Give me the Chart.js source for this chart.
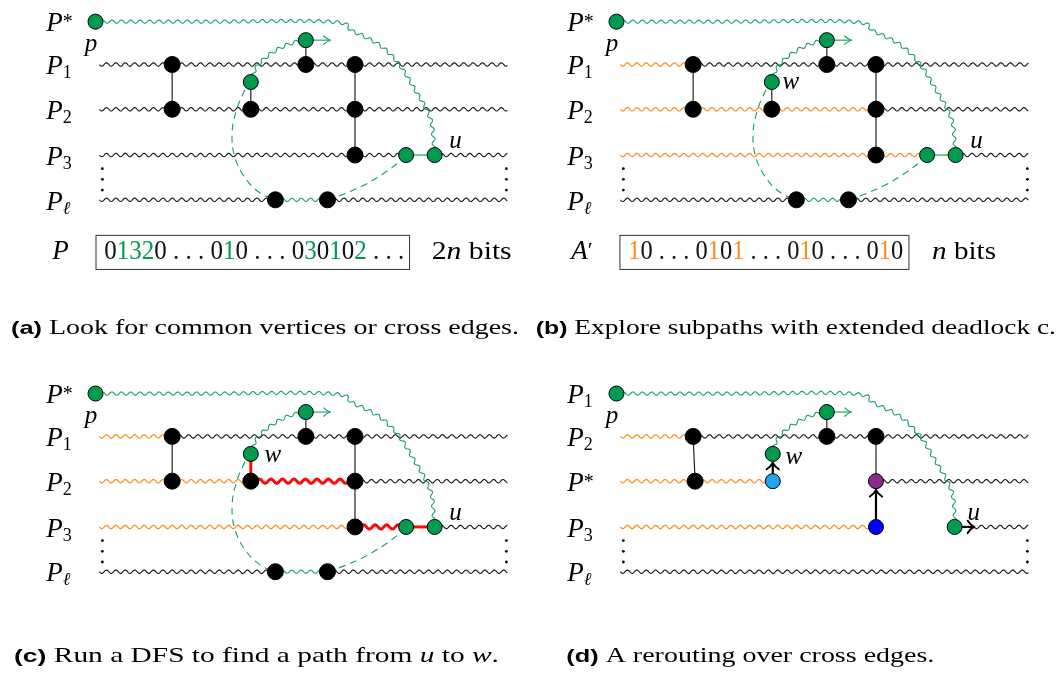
<!DOCTYPE html>
<html>
<head>
<meta charset="utf-8">
<script src="https://cdn.jsdelivr.net/npm/chart.js@4.4.1/dist/chart.umd.min.js"></script>
<style>
  html, body { margin: 0; padding: 0; background: #fff; overflow: hidden; }
  canvas { display: block; }
</style>
</head>
<body>
<canvas id="fig" width="1057" height="681" style="width:1057px;height:681px"></canvas>
<script>
// ---- data (panel-relative units: x from the panel's left, y down from its top row) ----
const rowOffsets = [0, 44, 90, 137, 183];
const origins = { a: [0, 13], b: [530, 13], c: [0, 395], d: [530, 395] };
const namesTop = ['P*', 'P1', 'P2', 'P3', 'Pℓ'];
const namesD = ['P1', 'P2', 'P*', 'P3', 'Pℓ'];

// path pieces along a row: [row, from x, to x, kind]
const segA = [
  [1, 92, 507, 'plain'], [2, 92, 507, 'plain'],
  [3, 92, 404, 'plain'], [3, 404, 433, 'routeEdge'], [3, 433, 507, 'plain'],
  [4, 92, 271, 'plain'], [4, 271, 324, 'route'], [4, 324, 507, 'plain']
];
const segB = [
  [1, 92, 166, 'explored'], [1, 166, 507, 'plain'],
  [2, 92, 352, 'explored'], [2, 352, 507, 'plain'],
  [3, 92, 404, 'explored'], [3, 404, 433, 'routeEdge'], [3, 433, 507, 'plain'],
  [4, 92, 272, 'plain'], [4, 272, 325, 'route'], [4, 325, 507, 'plain']
];
const segC = [
  [1, 92, 166, 'explored'], [1, 166, 507, 'plain'],
  [2, 92, 246, 'explored'], [2, 246, 352, 'dfs'], [2, 352, 507, 'plain'],
  [3, 92, 352, 'explored'], [3, 352, 404, 'dfs'], [3, 404, 433, 'dfsEdge'], [3, 433, 507, 'plain'],
  [4, 92, 271, 'plain'], [4, 271, 324, 'route'], [4, 324, 507, 'plain']
];
const segD = [
  [1, 92, 166, 'explored'], [1, 166, 507, 'plain'],
  [2, 92, 247, 'explored'], [2, 352, 507, 'plain'],
  [3, 92, 352, 'explored'], [3, 452, 507, 'plain'],
  [4, 92, 507, 'plain']
];

// cross edges: [x1, y1, x2, y2, kind]
const edgesAB = [[166, 44, 166, 90, 'crossEdge'], [246, 62, 246, 90, 'crossEdge'], [302, 19, 302, 44, 'crossEdge'], [352, 44, 352, 137, 'crossEdge']];
const edgesC = [[166, 44, 166, 90, 'crossEdge'], [246, 62, 246, 90, 'dfsEdge'], [302, 19, 302, 44, 'crossEdge'], [352, 44, 352, 137, 'crossEdge']];
const edgesD = [[166, 44, 168, 90, 'crossEdge'], [302, 19, 302, 44, 'crossEdge'], [352, 44, 352, 90, 'crossEdge']];

// arrows: [x1, y1, x2, y2, kind]
const arrowsABC = [[302, 19, 327, 19, 'open']];
const arrowsD = [[302, 19, 327, 19, 'open'], [247, 90, 247, 71, 'bold'], [352, 137, 352, 99, 'bold'], [432, 137, 452, 137, 'bold']];

// green wavy routes
const starRoute = [[88, 0], [200, 0], [327, 0], [350, 10], [377, 24], [397, 44], [413, 70], [423, 87], [430, 104], [432, 124], [433, 137]];
const wRoute = [[246, 62], [251, 48], [261, 37], [276, 27], [291, 21], [302, 19]];
// dashed arcs
const dashLeft = [[240, 70], [232, 89], [227, 114], [230, 140], [242, 163], [257, 177], [271, 183]];
const dashRight = [[324, 183], [341, 177], [361, 168], [381, 156], [397, 144], [404, 137]];

// vertices per kind
const blackABC = [[166, 44], [166, 90], [246, 90], [302, 44], [352, 44], [352, 90], [352, 137], [271, 183], [324, 183]];
const greenABC = [[88, 0], [246, 62], [302, 19], [404, 137], [433, 137]];
const blackD = [[166, 44], [168, 90], [302, 44], [352, 44]];
const greenD = [[88, 0], [247, 62], [302, 19], [432, 137]];
const startD = [[247, 90]];
const targetD = [[352, 137]];
const mergeD = [[352, 90]];
const vdots = [[95, 151], [95, 162], [95, 173], [506, 151], [506, 162], [506, 173]];

// vertex labels: [text, x, baseline]
const labelsA = [['p', 77, 30], ['u', 448, 130]];
const labelsB = [['p', 77, 30], ['u', 448, 130], ['w', 257, 69]];
const labelsC = [['p', 77, 30], ['u', 448, 130], ['w', 260, 70]];
const labelsD = [['p', 77, 30], ['u', 445, 130], ['w', 260, 72]];

// bit strings: [text, highlighted]
const bitsP = [['0', 0], ['132', 1], ['0', 0], [' . . . ', 0], ['0', 0], ['1', 1], ['0', 0], [' . . . ', 0],
  ['0', 0], ['3', 1], ['0', 0], ['1', 1], ['0', 0], ['2', 1], [' . . .', 0]];
const bitsA = [['1', 1], ['0', 0], [' . . . ', 0], ['0', 0], ['1', 1], ['0', 0], ['1', 1], [' . . . ', 0],
  ['0', 0], ['1', 1], ['0', 0], [' . . . ', 0], ['0', 0], ['1', 1], ['0', 0]];

const captions = [
  ['(a)', [['Look for common vertices or cross edges.', 0]]],
  ['(b)', [['Explore subpaths with extended deadlock c.', 0]]],
  ['(c)', [['Run a DFS to find a path from ', 0], ['u', 1], [' to ', 0], ['w', 1], ['.', 0]]],
  ['(d)', [['A rerouting over cross edges.', 0]]]
];

// ---- styles ----
const SERIF = "'Liberation Serif', serif";
const SANS = "'Liberation Sans', sans-serif";
const look = {
  plain: { color: '#1a1a1a', width: 1.15, amp: 1.7, len: 9.4 },
  explored: { color: '#ff8a1a', width: 1.2, amp: 1.7, len: 9.4 },
  route: { color: '#13a060', width: 1.1, amp: 1.6, len: 9.4 },
  dfs: { color: '#ff0a0a', width: 3, amp: 2.1, len: 11.5 },
  routeEdge: { color: '#13a060', width: 1.2 },
  dfsEdge: { color: '#ff0a0a', width: 3 },
  crossEdge: { color: '#222', width: 1.2 }
};
const fills = { plain: '#000', route: '#009b4e', start: '#1ea7ea', target: '#0000ff', merge: '#8b2a8f' };

const datasets = [];
const at = (o, p) => ({ x: o[0] + p[0], y: o[1] + p[1] });

function addNodes(o, pts, kind) {
  const black = kind === 'plain';
  datasets.push({
    data: pts.map(p => at(o, p)), showLine: false, order: 0,
    pointRadius: black ? 8 : 7.5, pointHoverRadius: 0,
    pointBackgroundColor: fills[kind], pointBorderColor: '#000', pointBorderWidth: 1
  });
}
function addLine(pts, kind, extra) {
  const st = look[kind];
  datasets.push(Object.assign({
    data: pts, showLine: true, pointRadius: 0, borderColor: st.color, borderWidth: st.width,
    wave: st.amp ? st : null, order: 4
  }, extra || {}));
}

function addPanel(key, segs, edges, arrows, nodes, dashed) {
  const o = origins[key];
  segs.forEach(s => addLine([at(o, [s[1], rowOffsets[s[0]]]), at(o, [s[2], rowOffsets[s[0]]])], s[3]));
  edges.forEach(e => addLine([at(o, [e[0], e[1]]), at(o, [e[2], e[3]])], e[4], { order: 2 }));
  addLine(starRoute.map(p => at(o, p)), 'route', { smooth: true, order: 3 });
  addLine(wRoute.map(p => at(o, p)), 'route', { smooth: true, order: 3 });
  if (dashed) {
    [dashLeft, dashRight].forEach(d => datasets.push({
      data: d.map(p => at(o, p)), showLine: true, pointRadius: 0, tension: 0.4,
      borderColor: '#13a060', borderWidth: 1.1, borderDash: [7, 5], order: 3
    }));
  }
  arrows.forEach(a => datasets.push({
    data: [at(o, [a[0], a[1]]), at(o, [a[2], a[3]])], showLine: true, pointRadius: 0,
    borderColor: a[4] === 'open' ? '#13a060' : '#000', borderWidth: a[4] === 'open' ? 1.1 : 2.2,
    head: a[4], order: 1
  }));
  nodes.forEach(n => addNodes(o, n[1], n[0]));
  datasets.push({
    data: vdots.map(p => at(o, p)), showLine: false, order: 0,
    pointRadius: 1.4, pointBackgroundColor: '#000', pointBorderWidth: 0
  });
}

addPanel('a', segA, edgesAB, arrowsABC, [['plain', blackABC], ['route', greenABC]], true);
addPanel('b', segB, edgesAB, arrowsABC, [['plain', blackABC], ['route', greenABC]], true);
addPanel('c', segC, edgesC, arrowsABC, [['plain', blackABC], ['route', greenABC]], true);
addPanel('d', segD, edgesD, arrowsD,
  [['plain', blackD], ['route', greenD], ['start', startD], ['target', targetD], ['merge', mergeD]], false);

// ---- drawing helpers ----
function catmull(p, steps) {
  const out = [];
  for (let i = 0; i < p.length - 1; i++) {
    const p0 = p[i - 1] || p[i], p1 = p[i], p2 = p[i + 1], p3 = p[i + 2] || p[i + 1];
    for (let s = 0; s < steps; s++) {
      const t = s / steps, t2 = t * t, t3 = t2 * t;
      const f = k => 0.5 * (2 * p1[k] + (-p0[k] + p2[k]) * t + (2 * p0[k] - 5 * p1[k] + 4 * p2[k] - p3[k]) * t2 + (-p0[k] + 3 * p1[k] - 3 * p2[k] + p3[k]) * t3);
      out.push({ x: f('x'), y: f('y') });
    }
  }
  out.push(p[p.length - 1]);
  return out;
}

function wavy(pts, amp, len) {
  const out = [];
  let s = 0, nx = 0, ny = 0;
  for (let i = 0; i < pts.length - 1; i++) {
    const a = pts[i], b = pts[i + 1];
    const L = Math.hypot(b.x - a.x, b.y - a.y);
    if (L < 1e-6) continue;
    nx = -(b.y - a.y) / L; ny = (b.x - a.x) / L;
    const n = Math.max(1, Math.ceil(L / 0.5));
    for (let k = 0; k < n; k++) {
      const t = k / n, o = amp * Math.sin(2 * Math.PI * (s + L * t) / len);
      out.push({ x: a.x + (b.x - a.x) * t + nx * o, y: a.y + (b.y - a.y) * t + ny * o });
    }
    s += L;
  }
  const e = pts[pts.length - 1], o = amp * Math.sin(2 * Math.PI * s / len);
  out.push({ x: e.x + nx * o, y: e.y + ny * o });
  return out;
}

function rich(ctx, parts, x, y, width) {
  let total = 0;
  parts.forEach(p => { ctx.font = p.font; p.w = ctx.measureText(p.t).width; total += p.w; });
  const sx = width ? width / total : 1;
  ctx.save();
  ctx.translate(x, y);
  ctx.scale(sx, 1);
  ctx.textBaseline = 'alphabetic';
  let cx = 0;
  parts.forEach(p => {
    ctx.font = p.font; ctx.fillStyle = p.color || '#000';
    ctx.fillText(p.t, cx, p.dy || 0);
    cx += p.w;
  });
  ctx.restore();
}

function nameParts(n) {
  const parts = [{ t: 'P', font: `italic 27px ${SERIF}` }];
  const s = n.slice(1);
  if (s === '*') parts.push({ t: '*', font: `20px ${SERIF}`, dy: -3 });
  else if (s === 'ℓ') parts.push({ t: 'ℓ', font: `italic 18px ${SERIF}`, dy: 4 });
  else parts.push({ t: s, font: `18px ${SERIF}`, dy: 4 });
  return parts;
}

const wavePlugin = {
  id: 'wave',
  beforeDatasetDraw(chart, args) {
    const ds = chart.data.datasets[args.index];
    if (!ds.wave) return;
    const ctx = chart.ctx;
    let pts = args.meta.data.map(p => ({ x: p.x, y: p.y }));
    if (ds.smooth) pts = catmull(pts, 30);
    const w = wavy(pts, ds.wave.amp, ds.wave.len);
    ctx.save();
    ctx.beginPath();
    w.forEach((p, i) => i ? ctx.lineTo(p.x, p.y) : ctx.moveTo(p.x, p.y));
    ctx.strokeStyle = ds.borderColor;
    ctx.lineWidth = ds.borderWidth;
    ctx.lineJoin = 'round';
    ctx.stroke();
    ctx.restore();
    return false;
  },
  afterDatasetDraw(chart, args) {
    const ds = chart.data.datasets[args.index];
    if (!ds.head) return;
    const d = args.meta.data, a = d[0], b = d[d.length - 1];
    const ang = Math.atan2(b.y - a.y, b.x - a.x);
    const ctx = chart.ctx;
    const len = ds.head === 'open' ? 8 : 9, spread = ds.head === 'open' ? 0.55 : 0.75;
    ctx.save();
    ctx.strokeStyle = ds.borderColor;
    ctx.lineWidth = ds.head === 'open' ? 1.1 : 2;
    ctx.lineCap = 'round';
    ctx.beginPath();
    [-1, 1].forEach(sg => {
      const ex = b.x - len * Math.cos(ang + sg * spread), ey = b.y - len * Math.sin(ang + sg * spread);
      const mx = b.x - len * 0.45 * Math.cos(ang + sg * spread * 0.55), my = b.y - len * 0.45 * Math.sin(ang + sg * spread * 0.55);
      ctx.moveTo(ex, ey);
      ctx.quadraticCurveTo(mx, my, b.x, b.y);
    });
    ctx.stroke();
    ctx.restore();
  }
};

const textPlugin = {
  id: 'texts',
  afterDraw(chart) {
    const ctx = chart.ctx, X = v => chart.scales.x.getPixelForValue(v), Y = v => chart.scales.y.getPixelForValue(v);
    const panelTexts = [['a', namesTop, labelsA], ['b', namesTop, labelsB], ['c', namesTop, labelsC], ['d', namesD, labelsD]];
    panelTexts.forEach(([k, names, labels]) => {
      const o = origins[k];
      names.forEach((n, i) => rich(ctx, nameParts(n), X(o[0] + 38), Y(o[1] + rowOffsets[i] + 10)));
      labels.forEach(l => rich(ctx, [{ t: l[0], font: `italic 25px ${SERIF}` }], X(o[0] + l[1]), Y(o[1] + l[2])));
    });
    // bit boxes
    const boxes = [
      ['a', [{ t: 'P', font: `italic 27px ${SERIF}` }], bitsP, '#009b4e', [88, 407], [97, 300], [{ t: '2', font: `26px ${SERIF}` }, { t: 'n', font: `italic 26px ${SERIF}` }, { t: ' bits', font: `26px ${SERIF}` }], [430, 80]],
      ['b', [{ t: 'A', font: `italic 27px ${SERIF}` }, { t: '′', font: `22px ${SERIF}`, dy: -2 }], bitsA, '#ff8a1a', [91, 385], [100, 275], [{ t: 'n', font: `italic 26px ${SERIF}` }, { t: ' bits', font: `26px ${SERIF}` }], [409, 64]]
    ];
    boxes.forEach(([k, name, bits, hi, rect, txt, unit, unitPos]) => {
      const o = origins[k];
      ctx.save();
      ctx.strokeStyle = '#333'; ctx.lineWidth = 1;
      ctx.strokeRect(X(o[0] + rect[0]) + 0.5, Y(o[1] + 219) + 0.5, X(o[0] + rect[1]) - X(o[0] + rect[0]), Y(o[1] + 254) - Y(o[1] + 219));
      ctx.restore();
      rich(ctx, name, X(o[0] + (k === 'a' ? 44 : 42)), Y(o[1] + 244));
      rich(ctx, bits.map(b => ({ t: b[0], font: `28px ${SERIF}`, color: b[1] ? hi : '#111' })), X(o[0] + txt[0]), Y(o[1] + 244), txt[1]);
      rich(ctx, unit, X(o[0] + unitPos[0]), Y(o[1] + 244), unitPos[1]);
    });
    // captions: [x, baseline, width]
    const capPos = [[2, 334, 508], [536, 334, 520], [5, 671, 485], [567, 671, 368]];
    captions.forEach((c, i) => {
      const parts = [{ t: c[0], font: `bold 19px ${SANS}` }, { t: ' ', font: `21px ${SERIF}` }]
        .concat(c[1].map(p => ({ t: p[0], font: `${p[1] ? 'italic ' : ''}21px ${SERIF}` })));
      rich(ctx, parts, X(capPos[i][0]), Y(capPos[i][1]), capPos[i][2]);
    });
  }
};

function draw() {
  new Chart(document.getElementById('fig'), {
    type: 'scatter',
    data: { datasets },
    options: {
      responsive: false,
      animation: false,
      events: [],
      layout: { padding: 0 },
      plugins: { legend: { display: false }, tooltip: { enabled: false } },
      scales: {
        x: { type: 'linear', min: 0, max: 1057, display: false },
        y: { type: 'linear', min: 0, max: 681, reverse: true, display: false }
      }
    },
    plugins: [wavePlugin, textPlugin]
  });
}

Promise.all([
  document.fonts.load(`italic 27px ${SERIF}`),
  document.fonts.load(`21px ${SERIF}`),
  document.fonts.load(`bold 19px ${SANS}`)
]).then(draw, draw);
</script>
</body>
</html>
